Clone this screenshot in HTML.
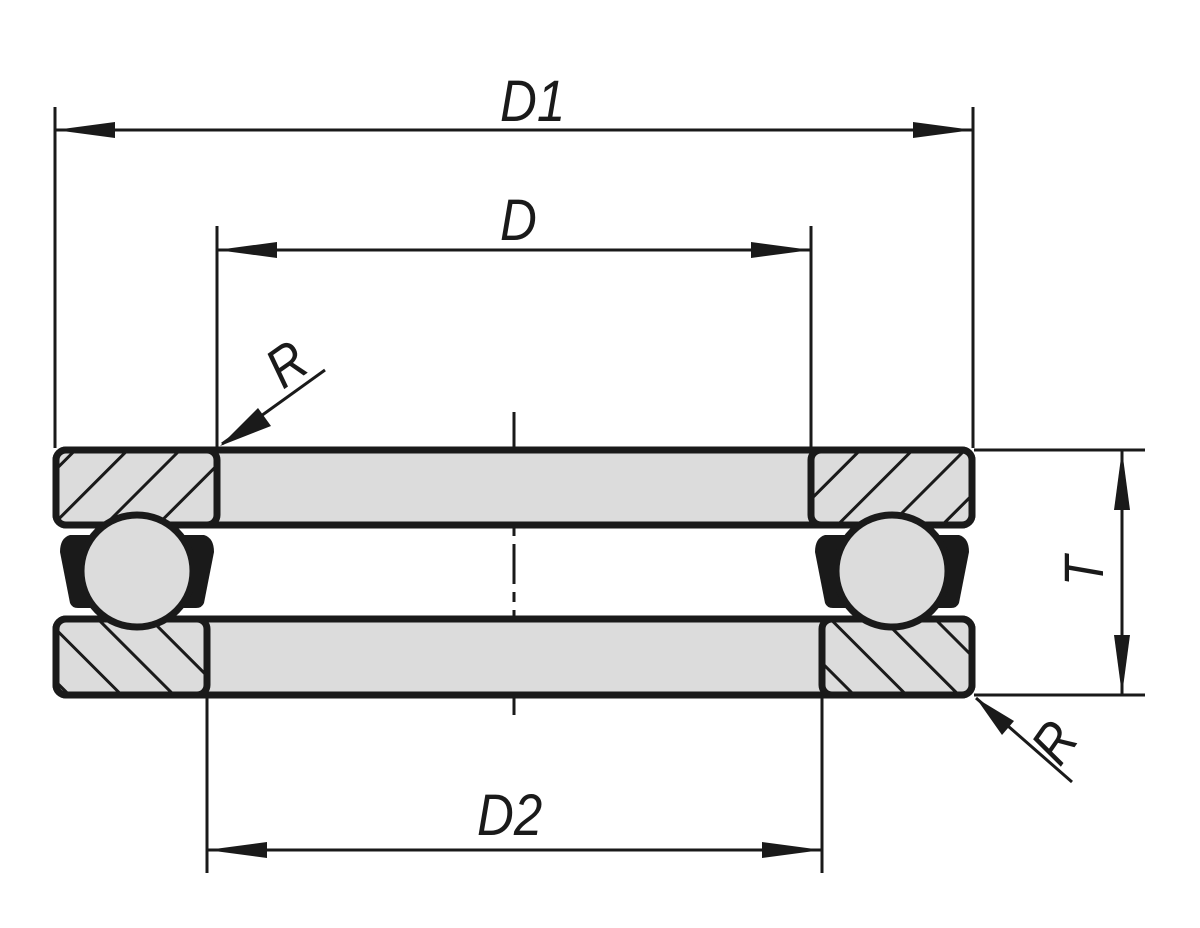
<!DOCTYPE html>
<html><head><meta charset="utf-8"><style>
html,body{margin:0;padding:0;background:#fff;}
svg{display:block}
text{font-family:"Liberation Sans",sans-serif;font-style:italic;fill:#1a1a1a;}
</style></head><body>
<svg width="1200" height="928" viewBox="0 0 1200 928" xmlns="http://www.w3.org/2000/svg">
<defs>
<pattern id="hf" patternUnits="userSpaceOnUse" width="37" height="37" patternTransform="rotate(45)">
<rect width="37" height="37" fill="#dcdcdc"/><line x1="0" y1="0" x2="0" y2="37" stroke="#1a1a1a" stroke-width="6"/></pattern>
<pattern id="hb" patternUnits="userSpaceOnUse" width="37" height="37" patternTransform="rotate(-45)">
<rect width="37" height="37" fill="#dcdcdc"/><line x1="0" y1="0" x2="0" y2="37" stroke="#1a1a1a" stroke-width="6"/></pattern>
</defs>
<g stroke="#1a1a1a" fill="none">
<g stroke-width="3">
<line x1="55" y1="107" x2="55" y2="448"/>
<line x1="973" y1="107" x2="973" y2="448"/>
<line x1="217" y1="226" x2="217" y2="448"/>
<line x1="811" y1="226" x2="811" y2="448"/>
<line x1="207" y1="697" x2="207" y2="873"/>
<line x1="822" y1="697" x2="822" y2="873"/>
<line x1="974" y1="450" x2="1145" y2="450"/>
<line x1="974" y1="695" x2="1145" y2="695"/>
<line x1="55" y1="130" x2="973" y2="130"/>
<line x1="217" y1="250" x2="811" y2="250"/>
<line x1="207" y1="850" x2="822" y2="850"/>
<line x1="1122" y1="450" x2="1122" y2="695"/>
<line x1="325" y1="370" x2="222" y2="444"/>
<line x1="1072" y1="782" x2="976" y2="698"/>
<line x1="514" y1="412" x2="514" y2="715" stroke-dasharray="40 8 10 8"/>
</g>
</g>
<g fill="#1a1a1a">
<polygon points="55,130 115,122 115,138"/>
<polygon points="973,130 913,122 913,138"/>
<polygon points="217,250 277,242 277,258"/>
<polygon points="811,250 751,242 751,258"/>
<polygon points="207,850 267,842 267,858"/>
<polygon points="822,850 762,842 762,858"/>
<polygon points="1122,450 1114,510 1130,510"/>
<polygon points="1122,695 1114,635 1130,635"/>
<polygon points="220,446 258,408 271,426"/>
<polygon points="976,698 1014,721 1002,735"/>
</g>
<g stroke="#1a1a1a" stroke-width="7" stroke-linejoin="round">
<rect x="56" y="450" width="916" height="75" rx="10" fill="#dcdcdc"/>
<rect x="56" y="450" width="161" height="75" rx="10" fill="url(#hf)"/>
<rect x="811" y="450" width="161" height="75" rx="10" fill="url(#hf)"/>
<rect x="56" y="619" width="916" height="76" rx="10" fill="#dcdcdc"/>
<rect x="56" y="619" width="151" height="76" rx="10" fill="url(#hb)"/>
<rect x="822" y="619" width="150" height="76" rx="10" fill="url(#hb)"/>
</g>
<g fill="#1a1a1a">
<path d="M70,535 Q60,538 60,552 L70,603 Q72,608 78,608 L110,608 L110,535 Z"/>
<path d="M204,535 Q214,538 214,552 L204,603 Q202,608 196,608 L164,608 L164,535 Z"/>
<path d="M825,535 Q815,538 815,552 L825,603 Q827,608 833,608 L865,608 L865,535 Z"/>
<path d="M959,535 Q969,538 969,552 L959,603 Q957,608 951,608 L919,608 L919,535 Z"/>
</g>
<g stroke="#1a1a1a" stroke-width="7" fill="#dcdcdc">
<circle cx="137" cy="571" r="56"/>
<circle cx="892" cy="571" r="56"/>
</g>
<text font-size="58" transform="translate(500,121) scale(0.88,1)">D1</text>
<text font-size="58" transform="translate(500,240) scale(0.88,1)">D</text>
<text font-size="58" transform="translate(477,835) scale(0.88,1)">D2</text>
<text font-size="56" transform="translate(283,390) rotate(-35) scale(0.88,1)">R</text>
<text font-size="56" transform="translate(1060,768) rotate(-55) scale(0.88,1)">R</text>
<text font-size="56" transform="translate(1103,586) rotate(-90) scale(0.88,1)">T</text>
</svg>
</body></html>
